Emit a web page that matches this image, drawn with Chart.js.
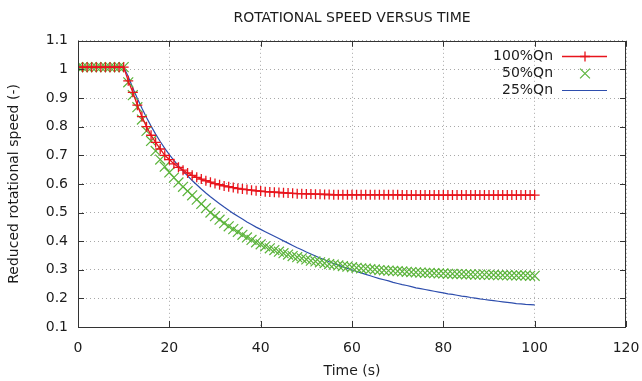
<!DOCTYPE html>
<html>
<head>
<meta charset="utf-8">
<script src="https://cdn.jsdelivr.net/npm/chart.js@4"></script>
<style>
html,body{margin:0;padding:0;background:#fff;}
#wrap{width:642px;height:381px;}
</style>
</head>
<body>
<div id="wrap"><canvas id="c" width="642" height="381"></canvas></div>
<script>
const chartTitle = 'ROTATIONAL SPEED VERSUS TIME';
const xTitle = 'Time (s)';
const yTitle = 'Reduced rotational speed (-)';
const seriesNames = ['100%Qn', '50%Qn', '25%Qn'];

const time = [0,1,2,3,4,5,6,7,8,9,10,11,12,13,14,15,16,17,18,19,20,21,22,23,24,25,26,27,28,29,30,31,32,33,34,35,36,37,38,39,40,41,42,43,44,45,46,47,48,49,50,51,52,53,54,55,56,57,58,59,60,61,62,63,64,65,66,67,68,69,70,71,72,73,74,75,76,77,78,79,80,81,82,83,84,85,86,87,88,89,90,91,92,93,94,95,96,97,98,99,100];

const speed100 = [1.008,1.008,1.008,1.008,1.008,1.008,1.008,1.008,1.008,1.008,1.008,
  0.960,0.920,0.875,0.835,0.800,0.770,0.745,0.722,0.700,0.685,
  0.670,0.658,0.648,0.638,0.630,0.623,0.617,0.611,0.606,0.601,
  0.597,0.593,0.590,0.587,0.584,0.582,0.580,0.578,0.576,0.575,
  0.573,0.572,0.571,0.570,0.569,0.568,0.567,0.566,0.566,0.565,
  0.565,0.564,0.564,0.563,0.563,0.562,0.562,0.562,0.562,0.562,
  0.562,0.562,0.562,0.562,0.562,0.562,0.562,0.562,0.562,0.562,
  0.561,0.561,0.561,0.561,0.561,0.561,0.561,0.561,0.561,0.561,
  0.561,0.561,0.561,0.561,0.561,0.561,0.561,0.561,0.561,0.561,
  0.561,0.561,0.561,0.561,0.561,0.561,0.561,0.561,0.561,0.561];

const speed50 = [1.008,1.008,1.008,1.008,1.008,1.008,1.008,1.008,1.008,1.008,1.008,
  0.955,0.910,0.868,0.825,0.785,0.750,0.715,0.685,0.660,0.640,
  0.622,0.605,0.590,0.575,0.560,0.545,0.530,0.515,0.500,0.487,
  0.475,0.463,0.452,0.442,0.432,0.422,0.413,0.404,0.396,0.389,
  0.382,0.375,0.369,0.363,0.358,0.353,0.348,0.344,0.340,0.336,
  0.332,0.329,0.326,0.323,0.320,0.318,0.315,0.313,0.311,0.309,
  0.307,0.305,0.304,0.302,0.301,0.299,0.298,0.297,0.296,0.295,
  0.294,0.293,0.292,0.291,0.290,0.289,0.289,0.288,0.287,0.287,
  0.286,0.286,0.285,0.285,0.284,0.284,0.283,0.283,0.283,0.282,
  0.282,0.281,0.281,0.281,0.280,0.280,0.280,0.280,0.279,0.279];

const speed25 = [1.008,1.008,1.008,1.008,1.008,1.008,1.008,1.008,1.008,1.008,1.008,
  0.975,0.935,0.898,0.864,0.832,0.802,0.774,0.748,0.724,0.702,
  0.682,0.663,0.645,0.628,0.612,0.597,0.582,0.568,0.555,0.543,
  0.531,0.519,0.508,0.497,0.487,0.477,0.467,0.458,0.449,0.441,
  0.433,0.425,0.417,0.409,0.401,0.393,0.385,0.377,0.370,0.362,
  0.355,0.348,0.341,0.335,0.328,0.322,0.316,0.310,0.305,0.299,
  0.294,0.289,0.284,0.279,0.274,0.269,0.265,0.261,0.256,0.252,
  0.248,0.245,0.241,0.237,0.234,0.231,0.228,0.225,0.222,0.219,
  0.216,0.214,0.211,0.208,0.206,0.203,0.201,0.198,0.196,0.194,
  0.192,0.190,0.188,0.186,0.184,0.182,0.181,0.179,0.178,0.177];

const xTicks = [0,20,40,60,80,100,120];
const yTicks = [0.1,0.2,0.3,0.4,0.5,0.6,0.7,0.8,0.9,1,1.1];

const toPts = (ys) => time.map((t, i) => ({x: t, y: ys[i]}));

const RED = '#e8141c';
const GREEN = '#5cb43c';
const BLUE = '#2e4ead';
const TEXT = '#1c1c1c';
const FONT = '"DejaVu Sans", sans-serif';

const framePlugin = {
  id: 'frame',
  afterDatasetsDraw(chart) {
    const {ctx, chartArea: a, scales} = chart;
    ctx.save();
    ctx.strokeStyle = '#333333';
    ctx.lineWidth = 1;
    ctx.setLineDash([]);
    ctx.strokeRect(Math.round(a.left) + 0.5, Math.round(a.top) + 0.5,
      Math.round(a.right - a.left) - 1, Math.round(a.bottom - a.top));
    const L = 6;
    ctx.beginPath();
    scales.x.ticks.forEach(t => {
      const px = Math.round(scales.x.getPixelForValue(t.value)) + 0.5;
      ctx.moveTo(px, a.bottom); ctx.lineTo(px, a.bottom - L);
      ctx.moveTo(px, a.top); ctx.lineTo(px, a.top + L);
    });
    scales.y.ticks.forEach(t => {
      const py = Math.round(scales.y.getPixelForValue(t.value)) + 0.5;
      ctx.moveTo(a.left, py); ctx.lineTo(a.left + L, py);
      ctx.moveTo(a.right, py); ctx.lineTo(a.right - L, py);
    });
    ctx.stroke();
    ctx.restore();
  }
};

const legendPlugin = {
  id: 'gpLegend',
  afterDraw(chart) {
    const {ctx} = chart;
    const textRight = 553, x1 = 562, x2 = 607, xm = 585;
    const rows = [56.5, 73.5, 90.5];
    ctx.save();
    chart.data.datasets.forEach((ds, i) => {
      const y = rows[i];
      ctx.font = '14px ' + FONT;
      ctx.fillStyle = TEXT;
      ctx.textAlign = 'right';
      ctx.textBaseline = 'middle';
      ctx.fillText(ds.label, textRight, y);
      if (ds.showLine !== false) {
        ctx.strokeStyle = ds.borderColor;
        ctx.lineWidth = ds.borderWidth;
        ctx.beginPath(); ctx.moveTo(x1, y); ctx.lineTo(x2, y); ctx.stroke();
      }
      if (ds.pointRadius > 0) {
        ctx.strokeStyle = ds.pointBorderColor;
        ctx.lineWidth = ds.pointBorderWidth;
        Chart.helpers.drawPoint(ctx, {
          pointStyle: ds.pointStyle, radius: ds.pointRadius,
          borderWidth: ds.pointBorderWidth, rotation: 0
        }, xm, y);
      }
    });
    ctx.restore();
  }
};

new Chart(document.getElementById('c'), {
  type: 'line',
  data: {
    datasets: [
      {
        label: seriesNames[0], data: toPts(speed100),
        borderColor: RED, borderWidth: 1.3, showLine: true,
        pointStyle: 'cross', pointRadius: 5, pointBorderColor: RED,
        pointBorderWidth: 1.3, pointBackgroundColor: RED, tension: 0
      },
      {
        label: seriesNames[1], data: toPts(speed50),
        borderColor: GREEN, borderWidth: 1.2, showLine: false,
        pointStyle: 'crossRot', pointRadius: 7, pointBorderColor: GREEN,
        pointBorderWidth: 1.2, pointBackgroundColor: GREEN
      },
      {
        label: seriesNames[2], data: toPts(speed25),
        borderColor: BLUE, borderWidth: 1.2, showLine: true,
        pointRadius: 0, pointBorderWidth: 0, tension: 0
      }
    ]
  },
  options: {
    responsive: false,
    animation: false,
    events: [],
    layout: {padding: {left: 0, right: 16, top: 0, bottom: 0}},
    plugins: {
      legend: {display: false},
      tooltip: {enabled: false},
      title: {
        display: true, text: chartTitle, color: TEXT, fullSize: false,
        font: {family: FONT, size: 14, weight: 'normal', lineHeight: 1.2},
        padding: {top: 10, bottom: 14}
      }
    },
    scales: {
      x: {
        type: 'linear', min: 0, max: 120,
        afterBuildTicks: (s) => { s.ticks = xTicks.map(v => ({value: v})); },
        afterFit: (s) => { s.height = 54; s.paddingLeft = 0; s.paddingRight = 0; },
        ticks: {color: TEXT, font: {family: FONT, size: 14}, padding: 13, maxRotation: 0},
        grid: {color: '#a8a8a8', lineWidth: 1, drawTicks: false},
        border: {display: false, dash: [1, 3]},
        title: {display: true, text: xTitle, color: TEXT,
          font: {family: FONT, size: 14}, padding: {top: 0, bottom: 1}}
      },
      y: {
        type: 'linear', min: 0.1, max: 1.1,
        afterBuildTicks: (s) => { s.ticks = yTicks.map(v => ({value: v})); },
        afterFit: (s) => { s.width = 78; s.paddingTop = 0; s.paddingBottom = 0; },
        ticks: {color: TEXT, font: {family: FONT, size: 14}, padding: 10,
          callback: (v) => String(Number(v.toFixed(1)))},
        grid: {color: '#a8a8a8', lineWidth: 1, drawTicks: false},
        border: {display: false, dash: [1, 3]},
        title: {display: true, text: yTitle, color: TEXT,
          font: {family: FONT, size: 14}, padding: {top: 6, bottom: 0}}
      }
    }
  },
  plugins: [framePlugin, legendPlugin]
});
</script>
</body>
</html>
